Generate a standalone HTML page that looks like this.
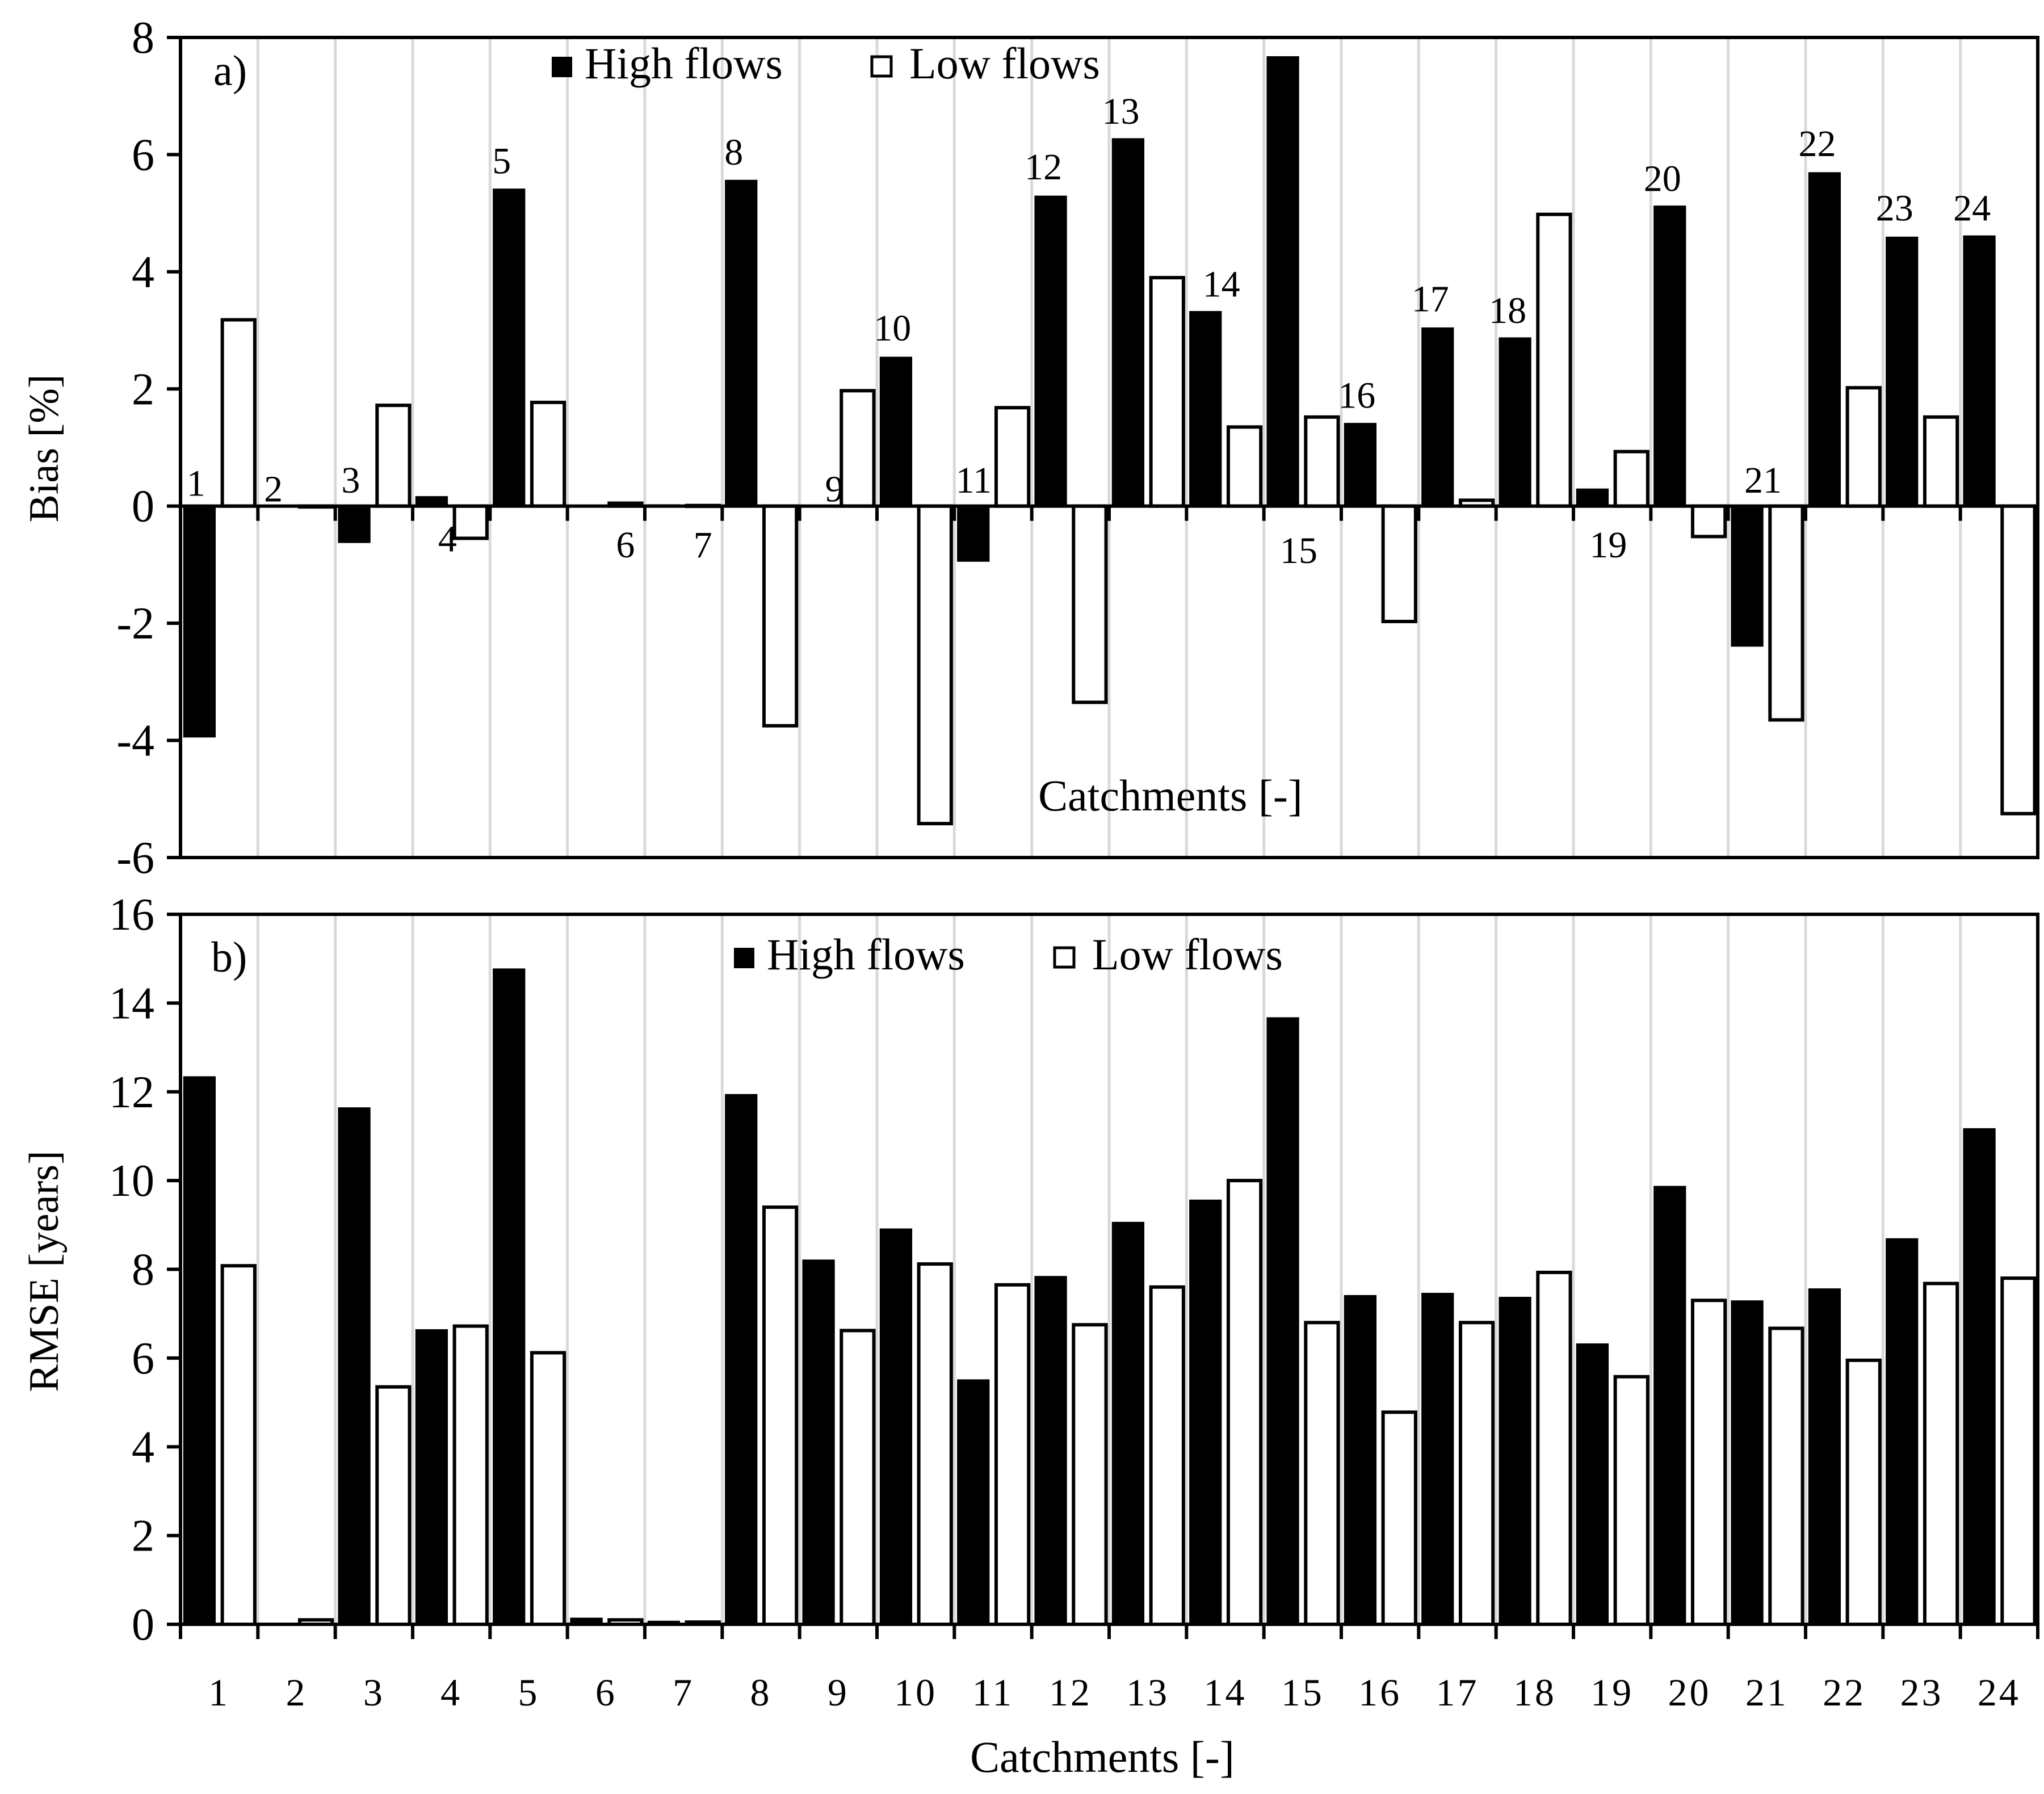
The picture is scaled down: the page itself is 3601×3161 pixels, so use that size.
<!DOCTYPE html>
<html><head><meta charset="utf-8"><style>
html,body{margin:0;padding:0;background:#fff;}
svg{display:block;}
text{font-family:"Liberation Serif",serif;fill:#000;}
</style></head><body>
<svg id="chart" width="3601" height="3161" viewBox="0 0 3601 3161" xmlns="http://www.w3.org/2000/svg"></svg>
<script>
const categories = ["1","2","3","4","5","6","7","8","9","10","11","12","13","14","15","16","17","18","19","20","21","22","23","24"];
const biasHigh = [-3.95,0.02,-0.63,0.17,5.42,0.02,0.03,5.57,-0.02,2.55,-0.95,5.3,6.28,3.33,7.68,1.42,3.05,2.88,0.3,5.13,-2.4,5.7,4.6,4.62];
const biasLow = [3.18,0.0,1.72,-0.55,1.77,0.05,0.01,-3.75,1.97,-5.42,1.68,-3.35,3.9,1.35,1.52,-1.97,0.1,4.98,0.93,-0.52,-3.65,2.02,1.52,-5.25];
const rmseHigh = [12.35,0.02,11.65,6.65,14.78,0.15,0.08,11.95,8.22,8.92,5.52,7.85,9.07,9.57,13.68,7.42,7.47,7.38,6.33,9.88,7.3,7.57,8.7,11.18];
const rmseLow = [8.08,0.1,5.35,6.72,6.12,0.1,0.05,9.4,6.62,8.12,7.65,6.75,7.6,10.0,6.8,4.78,6.8,7.93,5.58,7.3,6.67,5.95,7.68,7.8];
const biasTicks = [8,6,4,2,0,-2,-4,-6];
const rmseTicks = [16,14,12,10,8,6,4,2,0];
// annotation label value-positions (y in data units) for panel a
const annotY = [0.1,0.0,0.15,-0.85,5.6,-0.95,-0.95,5.75,0.0,2.75,0.15,5.5,6.45,3.5,-1.05,1.6,3.25,3.05,-0.95,5.3,0.15,5.9,4.8,4.8];
const annotDx = [-0.3,-0.3,-0.3,-0.05,-0.35,0.25,0.25,-0.35,-0.05,-0.3,-0.25,-0.35,-0.35,-0.05,-0.05,-0.3,-0.35,-0.35,-0.05,-0.35,-0.05,-0.35,-0.35,-0.35];

const svg = document.getElementById('chart');
const NS = 'http://www.w3.org/2000/svg';
function mk(tag, attrs, parent){const e=document.createElementNS(NS,tag);for(const k in attrs)e.setAttribute(k,attrs[k]);(parent||svg).appendChild(e);return e;}

const X0=318, X1=3590, n=categories.length, cw=(X1-X0)/n;
function xCat(i){return X0+i*cw;}
const yA = v => 66 + (8-v)*(1511-66)/14;
const yB = v => 1611 + (16-v)*(2862-1611)/16;

function panel(yf, top, bottom, ticks, high, low, key){
  for(let i=1;i<n;i++){
    const g=mk('line',{x1:xCat(i),x2:xCat(i),y1:top,y2:bottom,stroke:'#d9d9d9','stroke-width':5});
    
    
  }
  for(let i=0;i<n;i++){
    const bw=cw*0.42;
    const xh=xCat(i)+cw*0.035, xl=xCat(i)+cw*0.54;
    const y0=yf(0), yh=yf(high[i]), yl=yf(low[i]);
    const bh=mk('rect',{x:xh,y:Math.min(y0,yh),width:bw,height:Math.max(Math.abs(yh-y0),1.5),fill:'#000'});
    
    
    const bl=mk('rect',{x:xl,y:Math.min(y0,yl),width:bw,height:Math.max(Math.abs(yl-y0),1.5),fill:'#fff',stroke:'#000','stroke-width':6});
    
    
  }
  const z=yf(0);
  const ax=mk('line',{x1:X0,x2:X1,y1:z,y2:z,stroke:'#000','stroke-width':6});
  
  
  for(let i=0;i<=n;i++){
    const t=mk('line',{x1:xCat(i),x2:xCat(i),y1:z,y2:z+26,stroke:'#000','stroke-width':6});
    
    
  }
  const fr=mk('rect',{x:X0,y:top,width:X1-X0,height:bottom-top,fill:'none',stroke:'#000','stroke-width':6});
  
  
  ticks.forEach(v=>{
    const y=yf(v);
    const t=mk('line',{x1:X0-24,x2:X0,y1:y,y2:y,stroke:'#000','stroke-width':6});
    
    
    const l=mk('text',{x:X0-46,y:y+27,'font-size':80,'text-anchor':'end'});
    l.textContent=v;
    
    
  });
}
panel(yA,66,1511,biasTicks,biasHigh,biasLow,'bias');
panel(yB,1611,2862,rmseTicks,rmseHigh,rmseLow,'rmse');

for(let i=0;i<n;i++){
  const t=mk('text',{x:xCat(i)+cw*(0.5+annotDx[i]),y:yA(annotY[i])-8,'font-size':66,'text-anchor':'middle'});
  t.textContent=categories[i];
  
  
}
for(let i=0;i<n;i++){
  const t=mk('text',{x:xCat(i)+cw*0.5,y:3005,'font-size':68,'text-anchor':'middle','letter-spacing':4});
  t.textContent=categories[i];
  
  
}
function txt(x,y,s,str,name,extra){const t=mk('text',Object.assign({x:x,y:y,'font-size':s},extra||{}));t.textContent=str;return t;}
txt(376,150,76,'a)','panel-label-a');
txt(372,1712,76,'b)','panel-label-b');
txt(2062,1428,78,'Catchments [-]','x-axis-title-a',{'text-anchor':'middle'});
txt(1942,3122,78,'Catchments [-]','x-axis-title-b',{'text-anchor':'middle'});
txt(0,0,74,'Bias [%]','y-axis-title-a',{'text-anchor':'middle',transform:'translate(102,790) rotate(-90)'});
txt(0,0,74,'RMSE [years]','y-axis-title-b',{'text-anchor':'middle',transform:'translate(102,2240) rotate(-90)'});

function legend(x1,x2,y,key){
  const a=mk('rect',{x:x1,y:y-38,width:36,height:36,fill:'#000'});
  
  
  txt(x1+58,y,78,'High flows','legend-label-high-'+key);
  const b=mk('rect',{x:x2,y:y-38,width:34,height:34,fill:'#fff',stroke:'#000','stroke-width':5});
  
  
  txt(x2+66,y,78,'Low flows','legend-label-low-'+key);
}
legend(972,1536,138,'a');
legend(1293,1858,1708,'b');
</script>
</body></html>
